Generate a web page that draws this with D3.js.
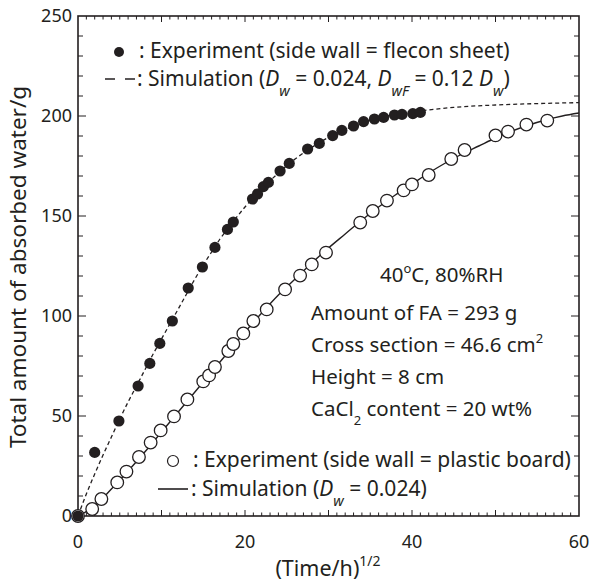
<!DOCTYPE html>
<html>
<head>
<meta charset="utf-8">
<script src="https://cdn.jsdelivr.net/npm/d3@7"></script>
<style>
  html, body { margin: 0; padding: 0; background: #fff; }
  svg { display: block; }
  text { font-family: "Noto Sans", sans-serif; fill: #231f20; }
</style>
</head>
<body>
<svg id="chart" width="595" height="586"></svg>
<script>
// === Data ===
// filled circles: side wall = flecon sheet
const fleconX = [0, 2.0, 4.9, 7.2, 8.6, 9.8, 11.3, 13.2, 14.9, 16.4, 17.9, 18.6, 20.9, 21.5, 22.2, 22.8,
                 24.2, 25.3, 27.5, 28.9, 30.5, 31.6, 33.0, 34.2, 35.5, 36.6, 37.9, 38.8, 40.1, 41.0];
const fleconY = [0, 31.8, 47.5, 65, 76.3, 86.3, 97.5, 114, 124.5, 134.3, 143.3, 147, 158.5, 161, 164.7, 166.8,
                 172.5, 176.3, 183.5, 186.3, 190.2, 192.8, 195, 197.2, 198.5, 199.3, 200.5, 200.8, 201.2, 201.8];
// open circles: side wall = plastic board
const plasticX = [0, 1.7, 2.8, 4.7, 5.8, 7.3, 8.7, 9.9, 11.5, 13.1, 15.0, 15.7, 16.4, 18.0, 18.6, 19.8, 21.0, 22.6,
                  24.8, 26.6, 28.0, 29.7, 33.8, 35.3, 37.0, 39.0, 40.0, 42.0, 44.7, 46.3, 50.0, 51.5, 53.7, 56.2];
const plasticY = [0, 3.5, 8.5, 16.8, 22.2, 29.5, 36.7, 42.8, 49.8, 58.3, 67.3, 70.3, 74.5, 82.5, 86, 91.3, 97.5, 103.3,
                  113.3, 120.2, 125.8, 131.7, 146.7, 152.5, 157.7, 162.8, 165.8, 170.5, 178.5, 183, 190.3, 192.2, 195.7, 197.7];
// simulation curves
const simDashX = [0, 1, 2, 3, 4, 5, 6, 7, 8, 9, 10, 11, 12, 13, 14, 15, 16, 17, 18, 20, 22, 24, 26, 28, 30,
                  32, 34, 36, 38, 40, 45, 50, 55, 60];
const simDashY = [0, 11, 21, 30.5, 39.5, 48.5, 57, 65, 73, 81, 88.5, 96, 103.5, 111, 118.5, 125.5, 132, 138.5, 144,
                  154.5, 163.5, 171.5, 178.5, 184.3, 189.3, 193.3, 196.5, 199, 200.8, 202, 204.3, 205.5, 206.2, 206.7];
const simSolidX = [0, 2, 4, 6, 8, 10, 12, 14, 16, 18, 20, 22, 24, 26, 28, 30, 32, 34, 36, 38, 40, 42, 44, 46, 48,
                   50, 52, 54, 56, 58, 60];
const simSolidY = [0, 5, 13.5, 22.5, 32, 42, 52, 62, 72, 82, 92, 101.5, 110.5, 118.5, 126.5, 134, 141, 148, 154.5,
                   160.5, 166, 171.5, 176.5, 181, 185, 189, 192.5, 195.5, 198, 200, 201.5];
const xTickLabels = [0, 20, 40, 60];
const yTickLabels = [0, 50, 100, 150, 200, 250];

// === Layout ===
const svg = d3.select('#chart');
const x = d3.scaleLinear().domain([0, 60]).range([78, 579]);
const y = d3.scaleLinear().domain([0, 250]).range([516, 16]);
const ink = '#231f20';

const zip = (xs, ys) => xs.map((v, i) => [v, ys[i]]);

// Frame
svg.append('rect')
    .attr('x', x(0)).attr('y', y(250))
    .attr('width', x(60) - x(0)).attr('height', y(0) - y(250))
    .attr('fill', 'none').attr('stroke', ink).attr('stroke-width', 1.6);

// Ticks (inward, all four sides)
const ticks = svg.append('g').attr('stroke', ink).attr('stroke-width', 1);
d3.range(1, 60).forEach(v => {
    const len = v % 10 === 0 ? 6 : 3.5;
    ticks.append('line').attr('x1', x(v)).attr('x2', x(v)).attr('y1', y(0)).attr('y2', y(0) - len);
    ticks.append('line').attr('x1', x(v)).attr('x2', x(v)).attr('y1', y(250)).attr('y2', y(250) + len);
});
d3.range(10, 250, 10).forEach(v => {
    const len = v % 50 === 0 ? 8 : 5;
    ticks.append('line').attr('y1', y(v)).attr('y2', y(v)).attr('x1', x(0)).attr('x2', x(0) + len);
    ticks.append('line').attr('y1', y(v)).attr('y2', y(v)).attr('x1', x(60)).attr('x2', x(60) - len);
});

// Tick labels
svg.append('g').selectAll('text').data(xTickLabels).join('text')
    .attr('x', d => x(d)).attr('y', 548)
    .attr('text-anchor', 'middle').attr('font-size', 18)
    .text(d => d);
svg.append('g').selectAll('text').data(yTickLabels).join('text')
    .attr('x', 72).attr('y', d => y(d) + 6)
    .attr('text-anchor', 'end').attr('font-size', 18)
    .text(d => d);

// Axis titles
svg.append('text')
    .attr('transform', 'translate(26,267) rotate(-90)')
    .attr('text-anchor', 'middle').attr('font-size', 22.5)
    .text('Total amount of absorbed water/g');
const xt = svg.append('text').attr('x', 328).attr('y', 576).attr('text-anchor', 'middle').attr('font-size', 21.5);
xt.append('tspan').text('(Time/h)');
xt.append('tspan').attr('font-size', 14).attr('dy', -10).text('1/2');

// Curves
const line = d3.line().x(d => x(d[0])).y(d => y(d[1])).curve(d3.curveMonotoneX);
svg.append('path').datum(zip(simDashX, simDashY))
    .attr('d', line).attr('fill', 'none').attr('stroke', ink)
    .attr('stroke-width', 1.3).attr('stroke-dasharray', '4,3');
svg.append('path').datum(zip(simSolidX, simSolidY))
    .attr('d', line).attr('fill', 'none').attr('stroke', ink).attr('stroke-width', 1.4);

// Points
svg.append('g').selectAll('circle').data(zip(plasticX, plasticY)).join('circle')
    .attr('cx', d => x(d[0])).attr('cy', d => y(d[1])).attr('r', 6.3)
    .attr('fill', '#fff').attr('stroke', ink).attr('stroke-width', 1.3);
svg.append('g').selectAll('circle').data(zip(fleconX, fleconY)).join('circle')
    .attr('cx', d => x(d[0])).attr('cy', d => y(d[1])).attr('r', 5.6)
    .attr('fill', ink);

// helper for rich text
function rich(t, parts) {
    parts.forEach(p => {
        const s = t.append('tspan').text(p.t);
        if (p.i) s.attr('font-style', 'italic');
        if (p.sub) s.attr('font-size', p.fs || 14.5).attr('baseline-shift', p.sub);
    });
    return t;
}

// Top legend
svg.append('circle').attr('cx', 119).attr('cy', 52).attr('r', 5).attr('fill', ink);
rich(svg.append('text').attr('x', 139).attr('y', 58).attr('font-size', 21),
    [{ t: ': Experiment (side wall = flecon sheet)' }]);
[[105, 115], [125, 135]].forEach(s =>
    svg.append('line').attr('x1', s[0]).attr('x2', s[1]).attr('y1', 79).attr('y2', 79)
        .attr('stroke', ink).attr('stroke-width', 1.5));
rich(svg.append('text').attr('x', 137).attr('y', 86).attr('font-size', 21), [
    { t: ': Simulation (' }, { t: 'D', i: true }, { t: 'w', i: true, sub: 'sub' },
    { t: ' = 0.024, ' }, { t: 'D', i: true }, { t: 'wF', i: true, sub: 'sub' },
    { t: ' = 0.12 ' }, { t: 'D', i: true }, { t: 'w', i: true, sub: 'sub' }, { t: ')' }
]);

// Conditions
const cond = [
    [{ t: '40' }, { t: 'o', sub: 'super', fs: 13 }, { t: 'C, 80%RH' }],
    [{ t: 'Amount of FA = 293 g' }],
    [{ t: 'Cross section = 46.6 cm' }, { t: '2', sub: 'super', fs: 13 }],
    [{ t: 'Height = 8 cm' }],
    [{ t: 'CaCl' }, { t: '2', sub: 'sub', fs: 13 }, { t: ' content = 20 wt%' }]
];
const condX = [380, 311, 311, 311, 311];
const condY = [282, 320, 352, 384, 416];
cond.forEach((c, i) => rich(svg.append('text').attr('x', condX[i]).attr('y', condY[i]).attr('font-size', 20.5), c));

// Bottom legend
svg.append('circle').attr('cx', 173).attr('cy', 461).attr('r', 5.5)
    .attr('fill', '#fff').attr('stroke', ink).attr('stroke-width', 1.2);
rich(svg.append('text').attr('x', 193).attr('y', 467).attr('font-size', 21),
    [{ t: ': Experiment (side wall = plastic board)' }]);
svg.append('line').attr('x1', 158).attr('x2', 188).attr('y1', 489).attr('y2', 489)
    .attr('stroke', ink).attr('stroke-width', 1.6);
rich(svg.append('text').attr('x', 191).attr('y', 496).attr('font-size', 21), [
    { t: ': Simulation (' }, { t: 'D', i: true }, { t: 'w', i: true, sub: 'sub' }, { t: ' = 0.024)' }
]);
</script>
</body>
</html>
